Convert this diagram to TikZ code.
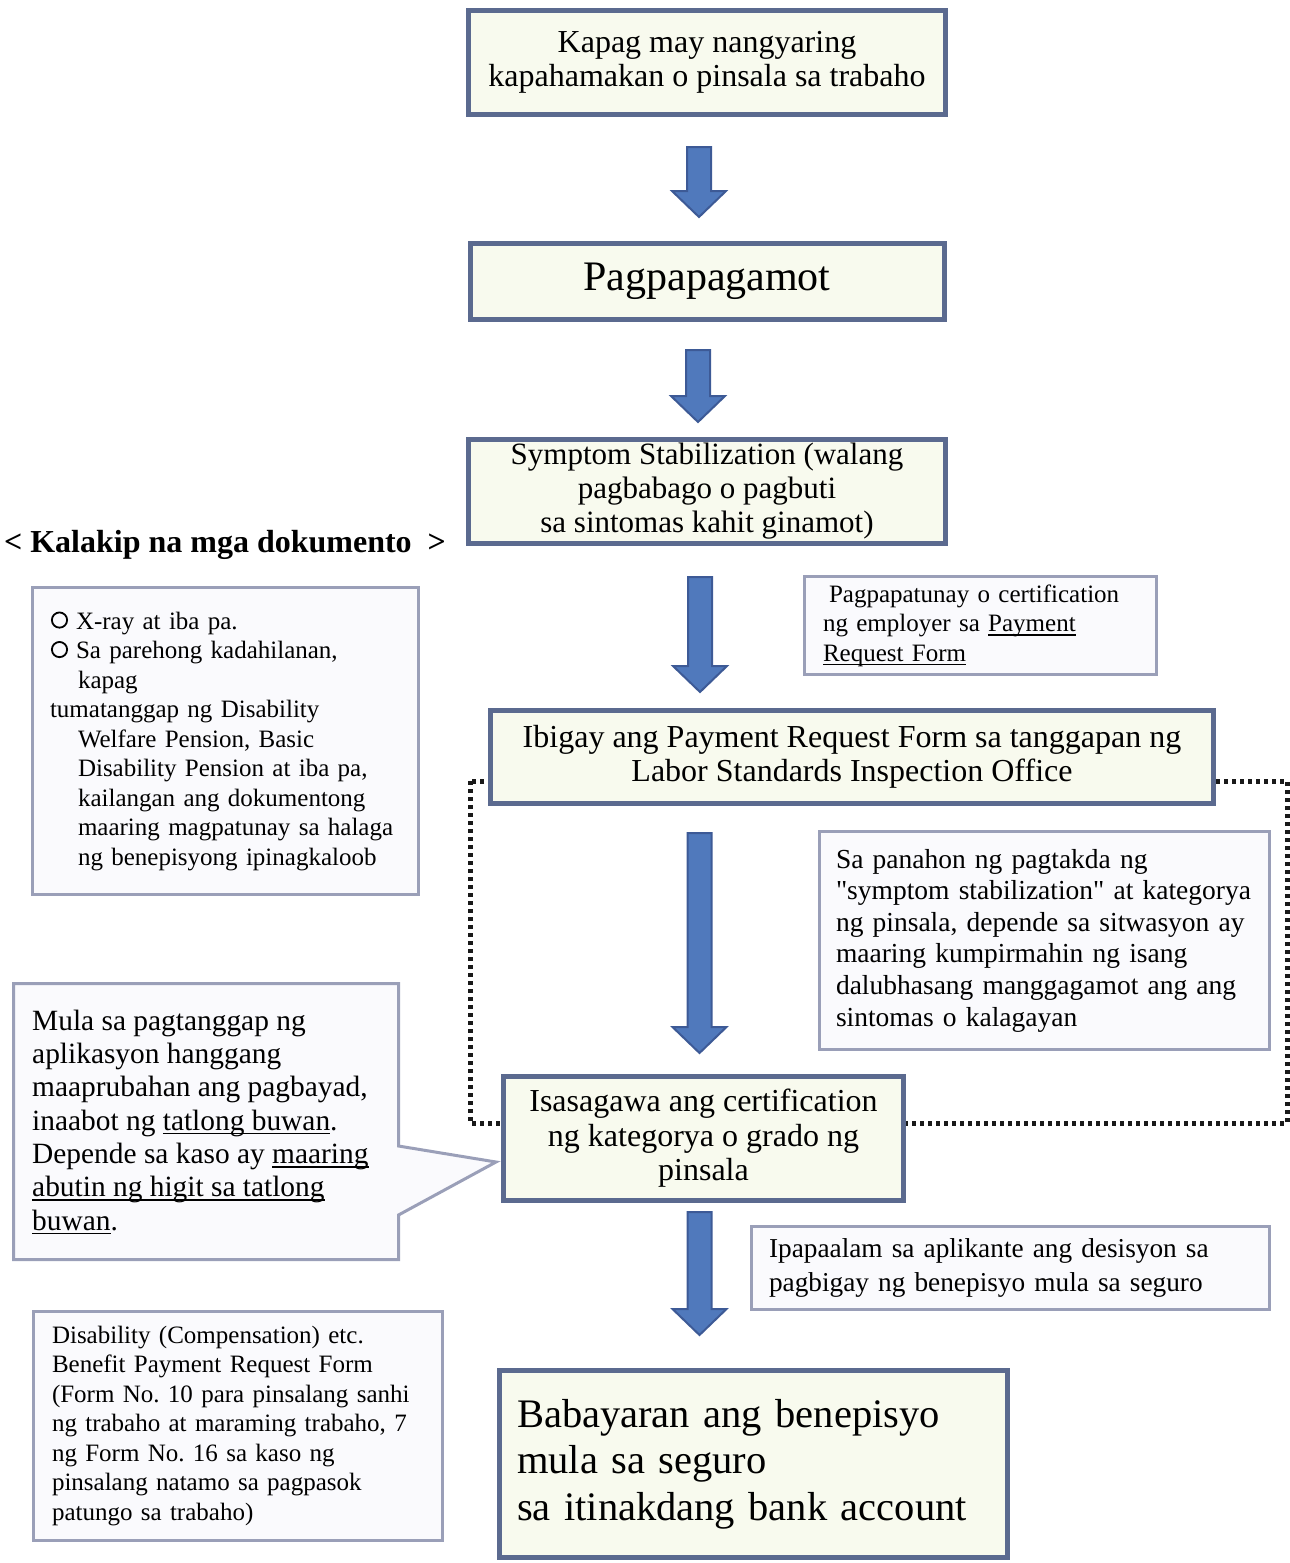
\documentclass[tikz,border=0pt]{standalone}
\usepackage{fontspec}
\setmainfont{Liberation Serif}
\usetikzlibrary{positioning, calc}
\definecolor{bordeazul}{HTML}{5B6A8F}
\definecolor{fondocrema}{HTML}{F8FAEE}
\definecolor{bordegris}{HTML}{9A9FB8}
\definecolor{fondonota}{HTML}{FAFAFD}
\definecolor{flechafill}{HTML}{5079BC}
\definecolor{flechaborde}{HTML}{3D5A96}
\tikzset{
  mainbox/.style={rectangle, draw=bordeazul, fill=fondocrema, line width=5pt, inner sep=0pt, text centered, align=center},
  notebox/.style={rectangle, draw=bordegris, fill=fondonota, line width=3pt, inner sep=0pt, align=left},
  fatarrow/.style={fill=flechafill, draw=flechaborde, line width=2pt},
  dotframe/.style={draw=black!90, line width=5pt, dash pattern=on 4pt off 4pt}
}
\frenchspacing
% subrayado a profundidad fija
\newcommand{\linea}[1]{\leavevmode\setbox0\hbox{#1}\rlap{\rule[-4pt]{\wd0}{1.6pt}}\box0}
% viñeta de círculo
\newcommand{\bilog}{\tikz[x=1pt, y=1pt, baseline=0pt]{\draw[line width=1.8pt] (8.5,9) circle[radius=7.6];}}
% flecha gruesa: de #1 (arriba) a la punta #2
\newcommand{\fatarr}[2]{%
  \path[fatarrow] let \p1=#1, \p2=#2 in
    (\x1-12pt,\y1) -- (\x1+12pt,\y1) -- (\x1+12pt,\y2+26pt) -- (\x1+27pt,\y2+26pt)
    -- (\x1,\y2) -- (\x1-27pt,\y2+26pt) -- (\x1-12pt,\y2+26pt) -- cycle;}

\begin{document}
\begin{tikzpicture}[x=1pt, y=-1pt,
        every node/.style={text=black},
        big/.style={font=\fontsize{32}{34.5}\selectfont},
        small/.style={font=\fontsize{25}{29.5}\selectfont}
        ]
            \useasboundingbox (0,0) rectangle (1290,1563);

            % --- Marco punteado (certificación) ---
            \coordinate (marco_a) at (470,781);
            \coordinate (marco_b) at (1287,1123);
            \draw [dotframe] (marco_a) rectangle (marco_b);

            % --- Nodos Principales ---
            \node (aksidente) [mainbox, big, minimum width=477pt, minimum height=104pt] at (707,62.5) {Kapag may nangyaring\\ kapahamakan o pinsala sa trabaho};
            \node (gamot) [mainbox, font=\fontsize{42}{48}\selectfont, minimum width=474pt, minimum height=76pt, below=124pt of aksidente] {Pagpapagamot};
            \node (stabil) [mainbox, font=\fontsize{31}{34}\selectfont, minimum width=477pt, minimum height=104pt, below=115pt of gamot] {Symptom Stabilization (walang\\ pagbabago o pagbuti\\ sa sintomas kahit ginamot)};
            \node (ibigay) [mainbox, big, minimum width=723pt, minimum height=93pt, below=162pt of stabil, xshift=145pt] {Ibigay ang Payment Request Form sa tanggapan ng\\ Labor Standards Inspection Office};
            \node (grado) [mainbox, big, minimum width=400pt, minimum height=124pt, below=268pt of ibigay, xshift=-148.5pt] {Isasagawa ang certification\\ ng kategorya o grado ng\\ pinsala};
            \node (bayad) [mainbox, font=\fontsize{40.5}{46.5}\selectfont, align=left, text width=473pt, minimum width=508pt, minimum height=187pt, below=165pt of grado, xshift=50pt] {Babayaran ang benepisyo\\ mula sa seguro\\ sa itinakdang bank account};

            % --- Mga dokumento (kaliwa) ---
            \node (kalakip) [font=\bfseries\fontsize{32}{36}\selectfont] at (225,545) {< Kalakip na mga dokumento \ >};
            \node (xray) [notebox, small, text width=351pt, minimum width=386pt, minimum height=307pt] at (225.5,741) {\hspace*{1pt}\bilog\hspace{8pt}X-ray at iba pa.\\ \hspace*{1pt}\bilog\hspace{8pt}Sa parehong kadahilanan,\\ \hspace*{28pt}kapag\\ tumatanggap ng Disability\\ \hspace*{28pt}Welfare Pension, Basic\\ \hspace*{28pt}Disability Pension at iba pa,\\ \hspace*{28pt}kailangan ang dokumentong\\ \hspace*{28pt}maaring magpatunay sa halaga\\ \hspace*{28pt}ng benepisyong ipinagkaloob};
            \node (porma) [notebox, small, text width=372pt, minimum width=409pt, minimum height=229pt] at (238,1426) {Disability (Compensation) etc.\\ Benefit Payment Request Form\\ (Form No. 10 para pinsalang sanhi\\ ng trabaho at maraming trabaho, 7\\ ng Form No. 16 sa kaso ng\\ pinsalang natamo sa pagpasok\\ patungo sa trabaho)};

            % --- Mga paalala (kanan) ---
            \node (sertipiko) [notebox, small, text width=315pt, minimum width=352pt, minimum height=98pt] at (980.5,625.5) {\hspace*{6pt}Pagpapatunay o certification\\ ng employer sa \linea{Payment}\\ \linea{Request Form}};
            \node (panahon) [notebox, font=\fontsize{27.5}{31.6}\selectfont, text width=417pt, minimum width=450pt, minimum height=218pt] at (1044.5,940.5) {Sa panahon ng pagtakda ng\\ \textquotedbl symptom stabilization\textquotedbl\ at kategorya\\ ng pinsala, depende sa sitwasyon ay\\ maaring kumpirmahin ng isang\\ dalubhasang manggagamot ang ang\\ sintomas o kalagayan};
            \node (abiso) [notebox, font=\fontsize{27.3}{34}\selectfont, text width=483pt, minimum width=518pt, minimum height=83pt] at (1010.5,1268) {Ipapaalam sa aplikante ang desisyon sa\\ pagbigay ng benepisyo mula sa seguro};

            % --- Callout: tagal ng proseso ---
            \coordinate (punta) at ($(grado.west)+(-5,23.5)$);
            \draw [notebox] (13.5,983.5) -- (398.5,983.5) -- (398.5,1146) -- (punta) -- (398.5,1215) -- (398.5,1259.5) -- (13.5,1259.5) -- cycle;
            \node (tagal) [anchor=west, align=left, inner sep=0pt, font=\fontsize{29.4}{33.3}\selectfont] at (32,1122) {Mula sa pagtanggap ng\\ aplikasyon hanggang\\ maaprubahan ang pagbayad,\\ inaabot ng \linea{tatlong buwan}.\\ Depende sa kaso ay \linea{maaring}\\ \linea{abutin ng higit sa tatlong}\\ \linea{buwan}.};

            % --- Mga flecha ---
            \fatarr{($(aksidente.south)+(-8,30)$)}{($(gamot.north)+(-8,-24)$)}
            \fatarr{($(gamot.south)+(-9,28)$)}{($(stabil.north)+(-9,-15)$)}
            \fatarr{($(stabil.south)+(-7,31)$)}{($(ibigay.north)+(-7,-16)$)}
            \fatarr{($(ibigay.south -| grado.north)+(-4,27)$)}{($(grado.north)+(-4,-21)$)}
            \fatarr{($(grado.south)+(-4,9)$)}{($(bayad.north -| grado.north)+(-4,-33)$)}
\end{tikzpicture}
\end{document}
